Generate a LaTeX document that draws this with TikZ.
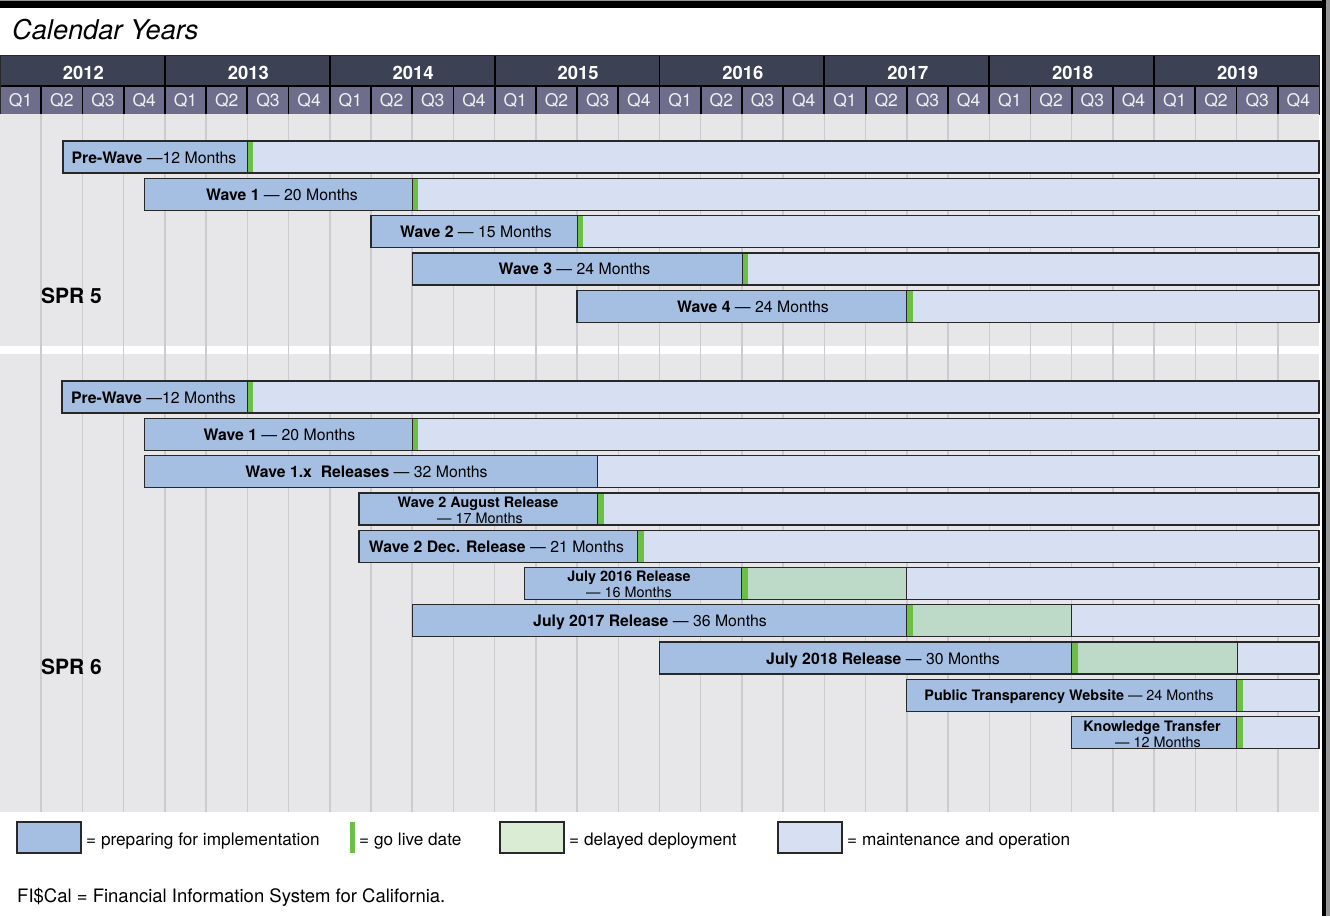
\documentclass[tikz,border=0pt]{standalone}
\usepackage{fontspec}
\setmainfont{TeX Gyre Heros}
\definecolor{yearbg}{RGB}{60,66,84}
\definecolor{qbg}{RGB}{110,110,140}
\definecolor{bodybg}{RGB}{231,231,234}
\definecolor{gridc}{RGB}{204,204,208}
\definecolor{prepc}{RGB}{165,191,227}
\definecolor{maintc}{RGB}{215,224,242}
\definecolor{delayc}{RGB}{189,217,199}
\definecolor{delaylg}{RGB}{218,237,212}
\definecolor{golivec}{RGB}{108,191,69}
\definecolor{edgec}{RGB}{40,40,40}
\definecolor{rimgray}{RGB}{150,150,150}
% #1 row centre y, #2 start x, #3 end of preparation, #4 end of delay (= #3 if none), #5 go-live marker (1/0)
\newcommand\gbar[5]{%
  \fill[maintc] (#2,#1-16) rectangle (1319,#1+16);
  \fill[prepc] (#2,#1-16) rectangle (#3,#1+16);
  \ifdim #4pt>#3pt
    \fill[delayc] (#3,#1-16) rectangle (#4,#1+16);
    \draw[sepline] (#4,#1-16) -- (#4,#1+16);
  \fi
  \draw[sepline] (#3,#1-16) -- (#3,#1+16);
  \ifnum#5=1 \fill[golivec] (#3+0.5,#1-16) rectangle (#3+6,#1+16);\fi
  \draw[bord] (#2,#1-16) rectangle (1319,#1+16);
}
\begin{document}
\begin{tikzpicture}[x=1pt,y=-1pt,
  sepline/.style={edgec,line width=1pt},
  bord/.style={edgec,line width=1.3pt},
  gridline/.style={gridc,line width=1.5pt},
  yearlbl/.style={anchor=base,text=white,font=\fontsize{18.4}{20}\selectfont\bfseries,inner sep=0pt},
  qlbl/.style={anchor=base,text=white!94!black,font=\fontsize{17.5}{20}\selectfont,inner sep=0pt},
  lbl/.style={anchor=base,font=\fontsize{15.8}{18}\selectfont,inner sep=0pt},
  lbltwo/.style={anchor=base,font=\fontsize{14.4}{16}\selectfont,inner sep=0pt},
  sprlbl/.style={anchor=base west,font=\fontsize{21}{24}\selectfont\bfseries,inner sep=0pt},
  legtxt/.style={anchor=base west,font=\fontsize{17.2}{20}\selectfont,inner sep=0pt},
  legbox/.style={draw=edgec,line width=1.3pt}
]
\useasboundingbox (0,0) rectangle (1330,916);
\fill[white] (0,0) rectangle (1330,916);
% frame
\fill[rimgray] (0,0) rectangle (1325,1);
\fill[black] (0,1) rectangle (1325,8);
\fill[black] (1322,0) rectangle (1325.5,916);
\fill[rimgray] (1325.5,0) rectangle (1330,916);
% title
\node[anchor=base west,inner sep=0pt,font=\fontsize{27.2}{30}\selectfont\itshape] (title) at (12,39.5) {Calendar Years};
% header
\fill[yearbg] (0,55) rectangle (1319,86);
\fill[qbg] (0,86) rectangle (1319,114);
\draw[black,line width=1.8pt] (0,86) -- (1319,86);
\foreach \i in {1,...,31} \draw[black,line width=1.8pt] ({\i*41.21875},86) -- ({\i*41.21875},114);
\foreach \i in {1,...,7} \draw[black,line width=1.8pt] ({\i*164.875},55) -- ({\i*164.875},86);
\draw[edgec,line width=1pt] (0,55) rectangle (1319,114);
\foreach \i/\yr in {0/2012,1/2013,2/2014,3/2015,4/2016,5/2017,6/2018,7/2019}
  \node[yearlbl] (yr\yr) at ({(\i+0.5)*164.875+1},79.3) {\yr};
\foreach \i in {0,...,31}{
  \pgfmathtruncatemacro\qn{mod(\i,4)+1}
  \node[qlbl] (q\i) at ({(\i+0.5)*41.21875},106) {Q\qn};
}
% body
\fill[bodybg] (0,114) rectangle (1319,812);
\fill[white] (0,346) rectangle (1319,354);
\foreach \i in {1,...,31} \draw[gridline] ({\i*41.21875},114) -- ({\i*41.21875},812);
% SPR 5
\gbar{157}{63}{247.3}{247.3}{1}
\gbar{194.3}{144.3}{412.2}{412.2}{1}
\gbar{231.6}{371}{577.1}{577.1}{1}
\gbar{268.9}{412.2}{742}{742}{1}
\gbar{306.2}{577.1}{906.8}{906.8}{1}
\node[lbl] (pw5) at (154,163) {\textbf{Pre-Wave} —12 Months};
\node[lbl] (w15) at (282,200.3) {\textbf{Wave 1} — 20 Months};
\node[lbl] (w25) at (476,237.6) {\textbf{Wave 2} — 15 Months};
\node[lbl] (w35) at (574.5,274.9) {\textbf{Wave 3} — 24 Months};
\node[lbl] (w45) at (753,312.2) {\textbf{Wave 4} — 24 Months};
\node[sprlbl] (spr5) at (41,303) {SPR 5};
% SPR 6
\gbar{397}{62}{247.3}{247.3}{1}
\gbar{434.3}{144.3}{412.2}{412.2}{1}
\gbar{471.6}{144.3}{597.7}{597.7}{0}
\gbar{508.9}{359}{597.7}{597.7}{1}
\gbar{546.2}{359}{637.7}{637.7}{1}
\gbar{583.5}{524.3}{741.5}{906.8}{1}
\gbar{620.8}{412.2}{906.8}{1071.5}{1}
\gbar{658.1}{659.5}{1071.5}{1237}{1}
\gbar{695.4}{906.8}{1236.6}{1236.6}{1}
\gbar{732.7}{1071.5}{1236.6}{1236.6}{1}
\node[lbl] (pw6) at (153.5,403) {\textbf{Pre-Wave} —12 Months};
\node[lbl] (w16) at (279.5,440.3) {\textbf{Wave 1} — 20 Months};
\node[lbl] (w1x) at (366.5,477.6) {\textbf{Wave 1.x\ \ Releases} — 32 Months};
\node[lbltwo] (w2a) at (478,507.3) {\textbf{Wave 2 August Release}};
\node[lbltwo] (w2ab) at (480,523) {— 17 Months};
\node[lbl] (w2d) at (496.5,552.2) {\textbf{Wave 2 Dec. Release} — 21 Months};
\node[lbltwo] (j16) at (629,581.8) {\textbf{July 2016 Release}};
\node[lbltwo] (j16b) at (629,597.5) {— 16 Months};
\node[lbl] (j17) at (650,626.8) {\textbf{July 2017 Release} — 36 Months};
\node[lbl] (j18) at (883,664.1) {\textbf{July 2018 Release} — 30 Months};
\node[lbltwo] (ptw) at (1069,700.5) {\textbf{Public Transparency Website} — 24 Months};
\node[lbltwo] (kt) at (1152,731.2) {\textbf{Knowledge Transfer}};
\node[lbltwo] (ktb) at (1158,747) {— 12 Months};
\node[sprlbl] (spr6) at (41,674) {SPR 6};
% legend
\draw[legbox,fill=prepc] (17,822) rectangle (81,853);
\node[legtxt] (lg1) at (86,845) {= preparing for implementation};
\fill[golivec] (350,822) rectangle (354.5,853);
\node[legtxt] (lg2) at (359,845) {= go live date};
\draw[legbox,fill=delaylg] (500,822) rectangle (564,853);
\node[legtxt] (lg3) at (569,845) {= delayed deployment};
\draw[legbox,fill=maintc] (778,822) rectangle (842,853);
\node[legtxt] (lg4) at (847,845) {= maintenance and operation};
\node[anchor=base west,inner sep=0pt,font=\fontsize{18.5}{21}\selectfont] (foot) at (17,902.3) {FI\$Cal = Financial Information System for California.};
\end{tikzpicture}
\end{document}
